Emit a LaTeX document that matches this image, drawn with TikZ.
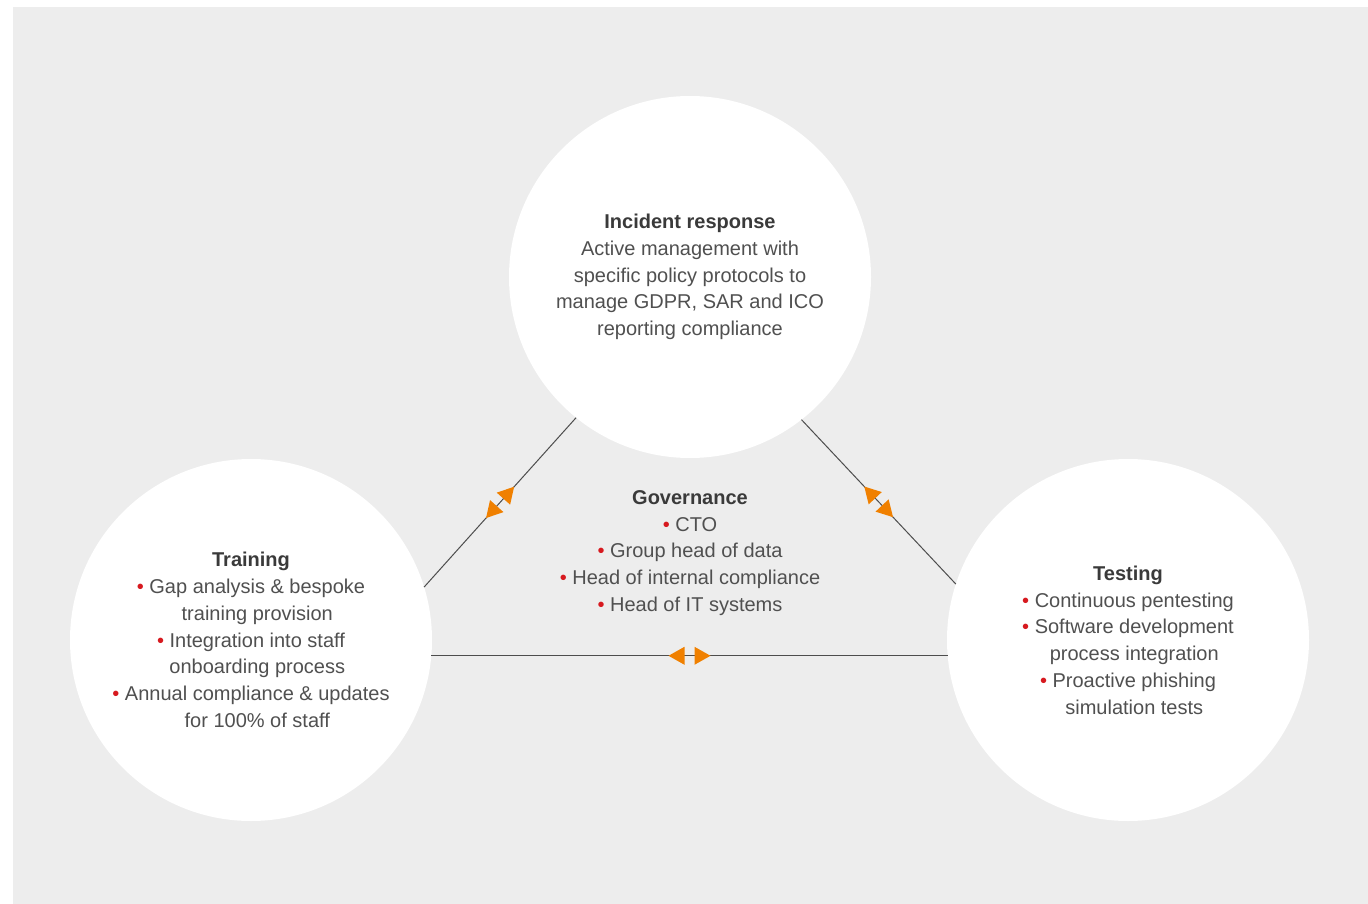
\documentclass[tikz,border=0pt]{standalone}
\usepackage{fontspec}
\setmainfont{Liberation Sans}
\usepackage{xcolor}
\definecolor{panel}{HTML}{EDEDED}
\definecolor{inktext}{HTML}{505050}
\definecolor{inkhead}{HTML}{3A3A3A}
\definecolor{bulletred}{HTML}{D7191F}
\definecolor{tiporange}{HTML}{F08000}
\definecolor{linkgray}{HTML}{4D4D4D}
\usepackage{tikz}
\usetikzlibrary{positioning,calc,decorations.markings}

\newcommand{\bul}{\textcolor{bulletred}{\textbullet}\ }
\newcommand{\nobul}{\phantom{\textbullet\ }}
\newcommand{\headline}[1]{\textbf{\color{inkhead}#1}}

\tikzset{
	bubble/.style={circle, fill=white, minimum size=362pt, inner sep=0pt, outer sep=0pt,
		align=center, text=inktext, font=\fontsize{20}{26.75}\selectfont},
	plaintext/.style={align=center, text=inktext, font=\fontsize{20}{26.75}\selectfont},
	twoway/.style={draw=linkgray, line width=1pt,
		decoration={markings, mark=at position 0.5 with {
				\fill[tiporange] (5pt,-9pt) -- (21pt,0pt) -- (5pt,9pt) -- cycle;
				\fill[tiporange] (-5pt,-9pt) -- (-21pt,0pt) -- (-5pt,9pt) -- cycle;}},
		postaction={decorate}}
}

\begin{document}
\begin{tikzpicture}[x=1pt,y=-1pt]
		\useasboundingbox (0,0) rectangle (1368,904);
		\fill[panel] (13,7) rectangle (1368,904);
		
		\node[bubble] (incident) at (690,277) {\headline{Incident response}\\
			Active management with\\ specific policy protocols to\\
			manage GDPR, SAR and ICO\\ reporting compliance};
		\node[bubble] (training) at (251,640) {\headline{Training}\\
			\bul Gap analysis \& bespoke\\ \nobul training provision\\
			\bul Integration into staff\\ \nobul onboarding process\\
			\bul Annual compliance \& updates\\ \nobul for 100\% of staff};
		\node[bubble] (testing) at (1128,640) {\headline{Testing}\\
			\bul Continuous pentesting\\ \bul Software development\\
			\nobul process integration\\ \bul Proactive phishing\\
			\nobul simulation tests};
		
		\node[plaintext] (governance) at (690,553) {\headline{Governance}\\
			\bul CTO\\ \bul Group head of data\\
			\bul Head of internal compliance\\ \bul Head of IT systems};
		
		\draw[twoway] (training.17.7) -- (incident.231.5); %%% left link
		\draw[twoway] (incident.308.5) -- (testing.162.4); %%% right link
		\draw[twoway] (training.-5.7) -- (testing.185.7); %%% bottom link
		
	\end{tikzpicture}
\end{document}
